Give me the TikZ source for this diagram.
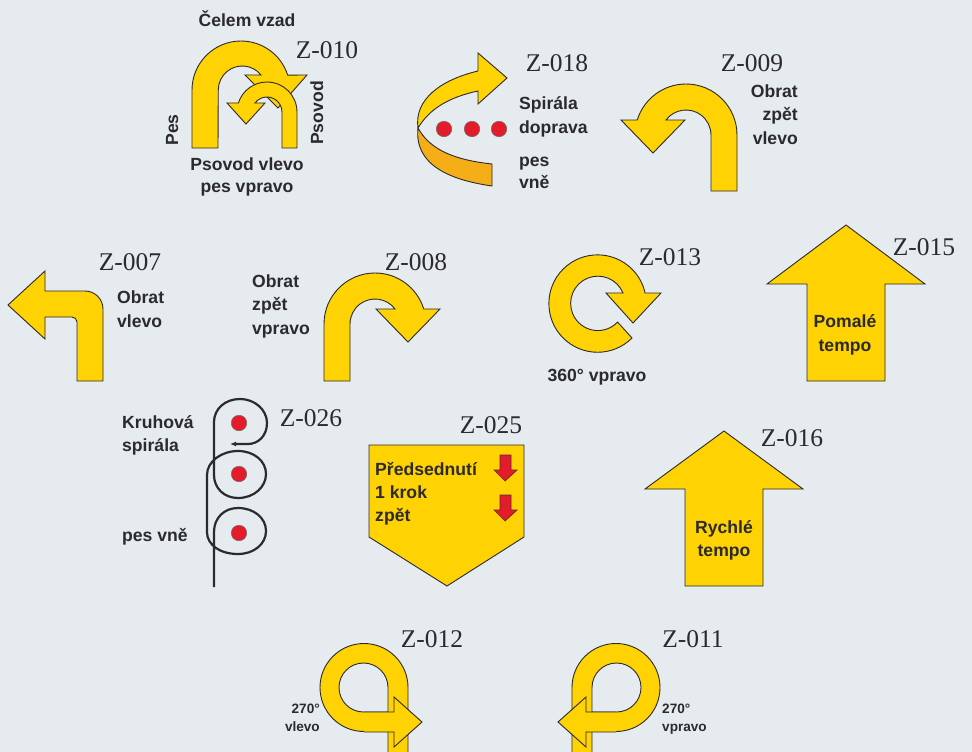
\documentclass[tikz,border=0pt]{standalone}
\usepackage{fontspec}
\setmainfont{Liberation Sans}
\newfontfamily\zfont{Liberation Serif}
\usetikzlibrary{arrows.meta}
\definecolor{bgc}{HTML}{E6EBF0}
\definecolor{yel}{HTML}{FFD204}
\definecolor{ora}{HTML}{F5AE17}
\definecolor{redc}{HTML}{E31B2B}
\definecolor{ink}{HTML}{2B2A2C}
\tikzset{
 x=1pt,y=1pt,
 sign/.style={fill=yel,draw=ink,line width=0.9pt,line join=miter},
 redarrow/.style={fill=redc,draw=ink!70!redc,line width=0.7pt},
 dot/.style={circle,fill=redc,draw=ink!70,line width=0.5pt,minimum size=15.5pt,inner sep=0pt},
 lab/.style={font=\fontsize{17.6}{20}\selectfont\bfseries,text=ink,inner sep=0pt,anchor=base},
 labl/.style={lab,anchor=base west},
 labr/.style={lab,anchor=base east},
 small/.style={font=\fontsize{13.6}{16}\selectfont\bfseries,text=ink,inner sep=0pt,anchor=base},
 code/.style={font=\fontsize{25.5}{28}\zfont,text=ink,inner sep=0pt,anchor=base},
 spiral/.style={draw=ink,line width=2.2pt,line cap=butt},
}
\begin{document}
\begin{tikzpicture}
\fill[bgc] (0,-752) rectangle (972,0);
\useasboundingbox (0,-752) rectangle (972,0);
% Z-010
\draw[sign] (192,-148) -- (192,-90) arc[start angle=180,end angle=17.7,radius=49] -- (307,-75) -- (278,-108) -- (245,-75) -- (261,-75) arc[start angle=38.7,end angle=180,radius=24] -- (218,-148) -- cycle;
\draw[sign] (297,-148) -- (297,-112) arc[start angle=0,end angle=162.5,radius=30] -- (227,-103) -- (246,-124) -- (265,-103) -- (255,-103) arc[start angle=143,end angle=0,radius=15] -- (282,-148) -- cycle;
\node[lab] (t1) at (247,-27) {Čelem vzad};
\node[code] (z010) at (327,-59) {Z-010};
\node[lab,rotate=90,anchor=base] (t2) at (178,-130) {Pes};
\node[lab,rotate=90,anchor=base] (t3) at (323,-113) {Psovod};
\node[lab] (t4) at (247,-170) {Psovod vlevo};
\node[lab] (t5) at (247,-192) {pes vpravo};
% Z-018
\draw[sign,fill=ora] (418,-128) .. controls (430,-150) and (455,-160) .. (492,-164) -- (492,-186) .. controls (450,-180) and (414,-165) .. (418,-128) -- cycle;
\draw[sign] (418,-128) .. controls (414,-100) and (440,-80) .. (478,-71) -- (478,-53) -- (507,-78) -- (478,-104) -- (478,-91) .. controls (450,-97) and (430,-108) .. (418,-128) -- cycle;
\node[dot] (d1) at (444,-129) {};
\node[dot] (d2) at (472,-129) {};
\node[dot] (d3) at (499,-129) {};
\node[code] (z018) at (557,-71) {Z-018};
\node[labl] (t6) at (519,-109) {Spirála};
\node[labl] (t7) at (519,-133) {doprava};
\node[labl] (t8) at (519,-166) {pes};
\node[labl] (t9) at (519,-188) {vně};
% Z-009
\draw[sign] (737,-191) -- (737,-135) arc[start angle=0,end angle=162.9,radius=51] -- (621,-120) -- (653,-153) -- (685,-120) -- (666,-120) arc[start angle=143.1,end angle=0,radius=25] -- (711,-191) -- cycle;
\node[code] (z009) at (752,-71) {Z-009};
\node[labr] (t10) at (798,-97) {Obrat};
\node[labr] (t11) at (798,-120) {zpět};
\node[labr] (t12) at (798,-144) {vlevo};
% Z-007
\draw[sign] (8,-305) -- (45,-271) -- (45,-291) -- (85,-291) arc[start angle=90,end angle=0,radius=18] -- (103,-381) -- (77,-381) -- (77,-322) arc[start angle=0,end angle=90,radius=5] -- (45,-317) -- (45,-339) -- cycle;
\node[code] (z007) at (130,-270) {Z-007};
\node[labl] (t13) at (117,-303) {Obrat};
\node[labl] (t14) at (117,-327) {vlevo};
% Z-008
\draw[sign] (324,-381) -- (324,-324) arc[start angle=180,end angle=17.1,radius=51] -- (440,-309) -- (408,-342) -- (376,-309) -- (395,-309) arc[start angle=36.9,end angle=180,radius=25] -- (350,-381) -- cycle;
\node[code] (z008) at (416,-270) {Z-008};
\node[labl] (t15) at (252,-287) {Obrat};
\node[labl] (t16) at (252,-310) {zpět};
\node[labl] (t17) at (252,-334) {vpravo};
% Z-013
\draw[sign] (632,-338) arc[start angle=-45,end angle=-347.5,radius=48.7] -- (661,-293) -- (633,-323) -- (606,-293) -- (623,-293) arc[start angle=22.4,end angle=316.5,radius=27.2] -- cycle;
\node[code] (z013) at (670,-265) {Z-013};
\node[lab] (t18) at (597,-381) {360° vpravo};
% Z-015
\draw[sign] (846,-225) -- (925,-284) -- (885,-284) -- (885,-381) -- (807,-381) -- (807,-284) -- (767,-284) -- cycle;
\node[code] (z015) at (924,-255) {Z-015};
\node[lab] (t19) at (845,-327) {Pomalé};
\node[lab] (t20) at (845,-351) {tempo};
% Z-016
\draw[sign] (724,-431) -- (803,-489) -- (763,-489) -- (763,-586) -- (685,-586) -- (685,-489) -- (645,-489) -- cycle;
\node[code] (z016) at (792,-446) {Z-016};
\node[lab] (t21) at (724,-533) {Rychlé};
\node[lab] (t22) at (724,-556) {tempo};
% Z-025
\draw[sign] (369,-445) -- (524,-445) -- (524,-537) -- (447,-586) -- (369,-537) -- cycle;
\draw[redarrow] (500,-455) -- (511,-455) -- (511,-470) -- (517,-470) -- (505,-481) -- (494,-470) -- (500,-470) -- cycle;
\draw[redarrow] (500,-495) -- (511,-495) -- (511,-510) -- (517,-510) -- (505,-521) -- (494,-510) -- (500,-510) -- cycle;
\node[code] (z025) at (491,-433) {Z-025};
\node[labl] (t23) at (375,-475) {Předsednutí};
\node[labl] (t24) at (375,-498) {1 krok};
\node[labl] (t25) at (375,-521) {zpět};
% Z-026
\draw[spiral,-{Latex[length=6pt,width=5pt]}] (214,-587) -- (214,-532) .. controls (214,-518) and (224,-508) .. (238,-508) .. controls (254,-508) and (266,-518) .. (266,-531) .. controls (266,-544) and (254,-554) .. (238,-554) .. controls (220,-554) and (207,-545) .. (207,-532) -- (207,-475) .. controls (207,-461) and (222,-451) .. (238,-451) .. controls (254,-451) and (266,-461) .. (266,-474) .. controls (266,-487) and (254,-498) .. (238,-498) .. controls (224,-498) and (214,-488) .. (214,-475) -- (214,-422) .. controls (214,-409) and (225,-399) .. (240,-399) .. controls (255,-399) and (267,-410) .. (267,-423) .. controls (267,-436) and (258,-444) .. (248,-444) -- (230,-444);
\node[dot] (d4) at (239,-423) {};
\node[dot] (d5) at (239,-474) {};
\node[dot] (d6) at (239,-533) {};
\node[code] (z026) at (311,-426) {Z-026};
\node[labl] (t26) at (122,-428) {Kruhová};
\node[labl] (t27) at (122,-451) {spirála};
\node[labl] (t28) at (122,-541) {pes vně};
% Z-012
\fill[yel] (408,-752) -- (408,-687.5) arc[start angle=0,end angle=270,radius=44] -- (388,-731.5) -- (388,-752) -- cycle;
\draw[sign,fill=none] (408,-752) -- (408,-687.5) arc[start angle=0,end angle=270,radius=44] -- (388,-731.5) -- (388,-752);
\draw[sign,fill=bgc] (388,-687.5) arc[start angle=0,end angle=270,radius=24.5] -- (388,-712) -- cycle;
\draw[sign] (364,-712) -- (394,-712) -- (394,-697) -- (422,-722) -- (394,-747) -- (394,-732) -- (364,-732);
\node[code] (z012) at (432,-647) {Z-012};
\node[small,anchor=base east] (t29) at (320,-713) {270°};
\node[small,anchor=base east] (t30) at (320,-731) {vlevo};
% Z-011
\fill[yel] (572,-752) -- (572,-687.5) arc[start angle=180,end angle=-90,radius=44] -- (592,-731.5) -- (592,-752) -- cycle;
\draw[sign,fill=none] (572,-752) -- (572,-687.5) arc[start angle=180,end angle=-90,radius=44] -- (592,-731.5) -- (592,-752);
\draw[sign,fill=bgc] (592,-687.5) arc[start angle=180,end angle=-90,radius=24.5] -- (592,-712) -- cycle;
\draw[sign] (616,-712) -- (586,-712) -- (586,-697) -- (558,-722) -- (586,-747) -- (586,-732) -- (616,-732);
\node[code] (z011) at (693,-647) {Z-011};
\node[small,anchor=base west] (t31) at (662,-713) {270°};
\node[small,anchor=base west] (t32) at (662,-731) {vpravo};
\end{tikzpicture}
\end{document}
